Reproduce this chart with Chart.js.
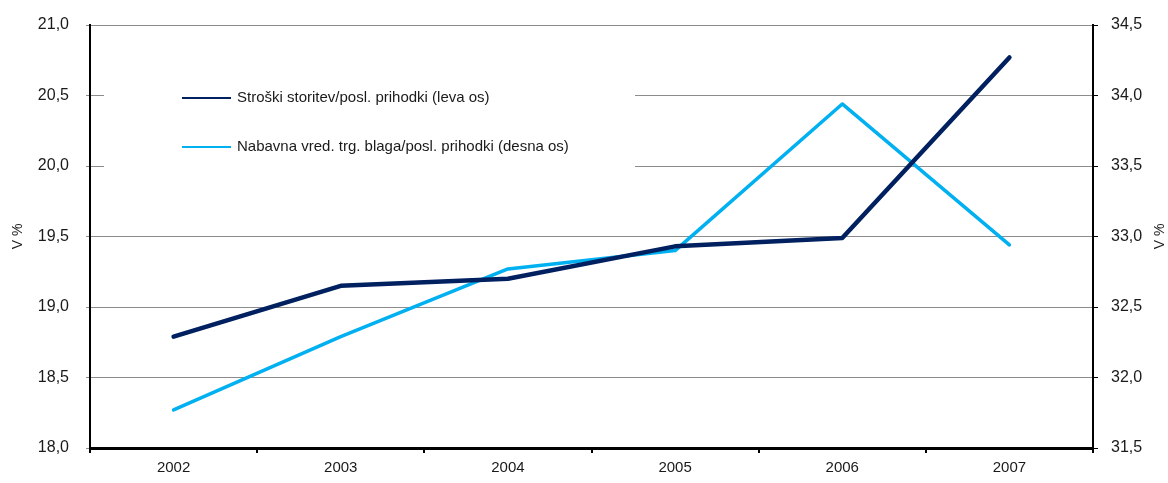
<!DOCTYPE html>
<html>
<head>
<meta charset="utf-8">
<script src="https://cdn.jsdelivr.net/npm/chart.js@4"></script>
<style>
  html, body { margin: 0; padding: 0; background: #fff; }
  #wrap { width: 1168px; height: 483px; }
</style>
</head>
<body>
<div id="wrap"><canvas id="graf"></canvas></div>
<script>
var leta = ["2002", "2003", "2004", "2005", "2006", "2007"]
var stroskiStoritev = [18.79, 19.15, 19.20, 19.43, 19.49, 20.77]
var nabavnaVred = [31.77, 32.29, 32.77, 32.90, 33.94, 32.94]
var oznake = ["Stroški storitev/posl. prihodki (leva os)", "Nabavna vred. trg. blaga/posl. prihodki (desna os)"]
var naslovOsi = "V %"

var FONT = "'Liberation Sans', Arial, sans-serif"
Chart.defaults.font.family = FONT
Chart.defaults.color = "#1a1a1a"

function vejica(v){
    return Number(v).toFixed(1).replace(".", ",")
}

// legenda znotraj grafa, z belim ozadjem
var legendaNotri = {
    id: "legendaNotri",
    beforeDatasetsDraw: function(chart){
        var ctx = chart.ctx
        ctx.save()
        ctx.fillStyle = "#fff"
        ctx.fillRect(104, 76, 531, 100)
        var vrste = [98, 147]
        chart.data.datasets.forEach(function(ds, i){
            ctx.strokeStyle = ds.borderColor
            ctx.lineWidth = 2
            ctx.beginPath()
            ctx.moveTo(182, vrste[i])
            ctx.lineTo(231, vrste[i])
            ctx.stroke()
            ctx.fillStyle = "#1a1a1a"
            ctx.font = "15px " + FONT
            ctx.textBaseline = "middle"
            ctx.fillText(ds.label, 237, vrste[i])
        })
        ctx.restore()
    }
}

// naslova obeh osi, oba obrnjena navzgor
var naslovaOsi = {
    id: "naslovaOsi",
    afterDraw: function(chart){
        var ctx = chart.ctx
        var sred = (chart.chartArea.top + chart.chartArea.bottom) / 2
        ctx.save()
        ctx.fillStyle = "#1a1a1a"
        ctx.font = "14px " + FONT
        ctx.textAlign = "center"
        ctx.textBaseline = "middle"
        ;[18, 1160].forEach(function(x){
            ctx.save()
            ctx.translate(x, sred)
            ctx.rotate(-Math.PI / 2)
            ctx.fillText(naslovOsi, 0, 0)
            ctx.restore()
        })
        ctx.restore()
    }
}

new Chart(document.getElementById("graf"), {
    type: "line",
    data: {
        labels: leta,
        datasets: [{
            label: oznake[0],
            data: stroskiStoritev,
            yAxisID: "y",
            borderColor: "#002060",
            borderWidth: 4.5,
            borderCapStyle: "round",
            borderJoinStyle: "round",
            pointRadius: 0,
            tension: 0
        }, {
            label: oznake[1],
            data: nabavnaVred,
            yAxisID: "y1",
            borderColor: "#00b0f0",
            borderWidth: 3.5,
            borderCapStyle: "round",
            borderJoinStyle: "round",
            pointRadius: 0,
            tension: 0
        }]
    },
    plugins: [legendaNotri, naslovaOsi],
    options: {
        responsive: true,
        maintainAspectRatio: false,
        animation: false,
        layout: { padding: { top: 24, left: 0, right: 0, bottom: 0 } },
        plugins: {
            legend: { display: false },
            tooltip: { enabled: false }
        },
        scales: {
            x: {
                offset: true,
                grid: { offset: true, drawOnChartArea: false, tickLength: 5, color: "#000", lineWidth: 2 },
                border: { color: "#000", width: 3 },
                ticks: { font: { size: 15 }, padding: 6, maxRotation: 0 },
                afterFit: function(s){ s.height = 35 }
            },
            y: {
                position: "left",
                min: 18, max: 21,
                grid: { color: "#8c8c8c", lineWidth: 1, tickLength: 4 },
                border: { color: "#000", width: 2 },
                ticks: { stepSize: 0.5, font: { size: 16, lineHeight: 1 }, padding: 17, callback: vejica },
                afterFit: function(s){ s.width = 90 }
            },
            y1: {
                position: "right",
                min: 31.5, max: 34.5,
                grid: { drawOnChartArea: false, color: "#000", lineWidth: 1, tickLength: 5 },
                border: { color: "#000", width: 2 },
                ticks: { stepSize: 0.5, font: { size: 16, lineHeight: 1 }, padding: 13, callback: vejica },
                afterFit: function(s){ s.width = 75 }
            }
        }
    }
})
</script>
</body>
</html>
